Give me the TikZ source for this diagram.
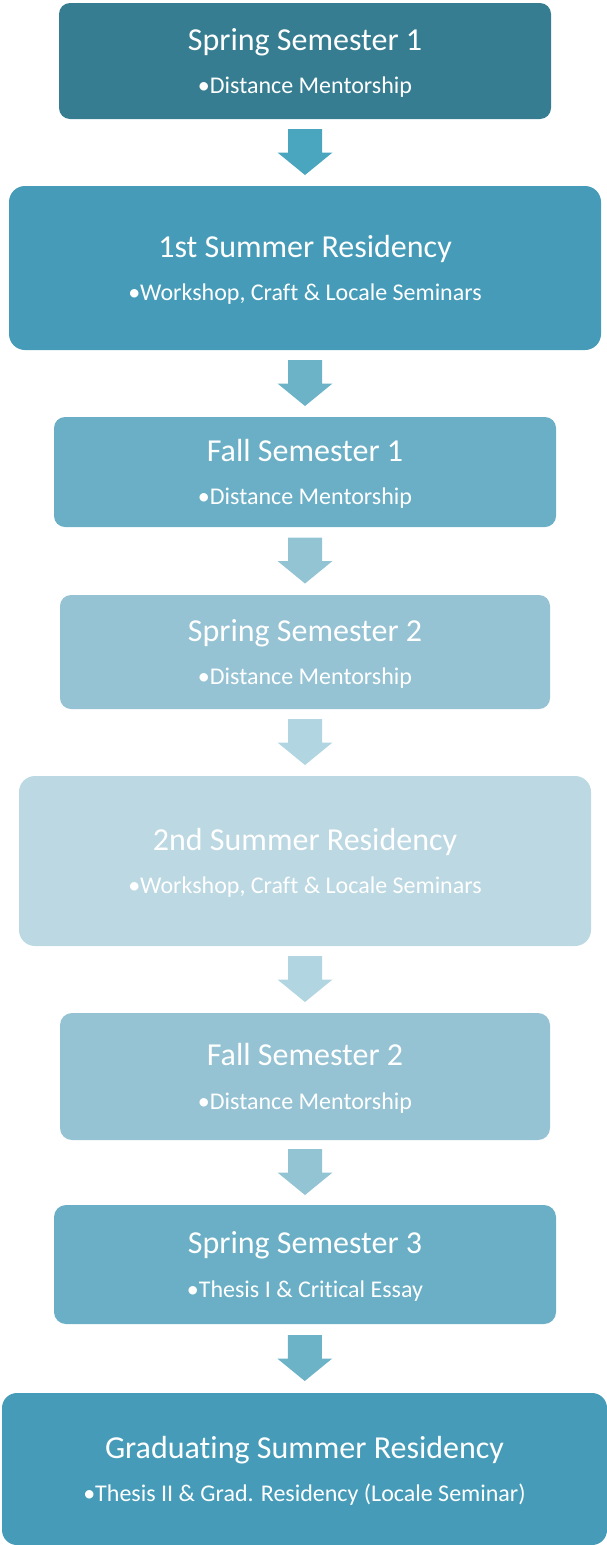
\documentclass[tikz,border=0pt]{standalone}
\usepackage{fontspec}
\setmainfont[Ligatures=NoCommon]{Carlito}
\usetikzlibrary{calc}
\definecolor{cA}{HTML}{367D91}
\definecolor{cB}{HTML}{469CB8}
\definecolor{cC}{HTML}{6AAFC6}
\definecolor{cD}{HTML}{95C3D4}
\definecolor{cE}{HTML}{BCD8E2}
\definecolor{aA}{HTML}{4AA6BE}
\definecolor{aB}{HTML}{6CB3C8}
\definecolor{aC}{HTML}{93C4D4}
\definecolor{aD}{HTML}{B1D5E1}
\begin{document}
\begin{tikzpicture}[x=1pt,y=-1pt,
  stagebox/.style={rounded corners=#1, inner sep=0pt, draw=none},
  ttl/.style={anchor=base, text=white, inner sep=0pt, font=\fontsize{32}{38}\selectfont},
  sub/.style={anchor=base, text=white, inner sep=0pt, font=\fontsize{24}{29}\selectfont},
  downarrow/.pic={\path[pic actions] (-17,-23.5) -- (17,-23.5) -- (17,0) -- (27.5,0) -- (0,22.5) -- (-27.5,0) -- (-17,0) -- cycle;}
]
\useasboundingbox (0,0) rectangle (607,1545);
% boxes
\node[stagebox=11pt, fill=cA, minimum width=492pt, minimum height=116pt] (b1) at (305,61) {};
\node[stagebox=16pt, fill=cB, minimum width=592pt, minimum height=164pt] (b2) at (305,268) {};
\node[stagebox=11pt, fill=cC, minimum width=502pt, minimum height=110pt] (b3) at (305,472) {};
\node[stagebox=11pt, fill=cD, minimum width=490pt, minimum height=114pt] (b4) at (305,652) {};
\node[stagebox=16pt, fill=cE, minimum width=572pt, minimum height=170pt] (b5) at (305,861) {};
\node[stagebox=12pt, fill=cD, minimum width=490pt, minimum height=127pt] (b6) at (305,1076.5) {};
\node[stagebox=12pt, fill=cC, minimum width=502pt, minimum height=119pt] (b7) at (305,1264.5) {};
\node[stagebox=15pt, fill=cB, minimum width=605pt, minimum height=152pt] (b8) at (304.5,1469) {};
% texts
\node[ttl] (t1) at ($(b1.center)+(0,-11)$) {Spring Semester 1};
\node[sub] (s1) at ($(b1.center)+(0,32.5)$) {•Distance Mentorship};
\node[ttl] (t2) at ($(b2.center)+(0,-11)$) {1st Summer Residency};
\node[sub] (s2) at ($(b2.center)+(0,32.5)$) {•Workshop, Craft \& Locale Seminars};
\node[ttl] (t3) at ($(b3.center)+(0,-11)$) {Fall Semester 1};
\node[sub] (s3) at ($(b3.center)+(0,32.5)$) {•Distance Mentorship};
\node[ttl] (t4) at ($(b4.center)+(0,-11)$) {Spring Semester 2};
\node[sub] (s4) at ($(b4.center)+(0,32.5)$) {•Distance Mentorship};
\node[ttl] (t5) at ($(b5.center)+(0,-11)$) {2nd Summer Residency};
\node[sub] (s5) at ($(b5.center)+(0,32.5)$) {•Workshop, Craft \& Locale Seminars};
\node[ttl] (t6) at ($(b6.center)+(0,-11)$) {Fall Semester 2};
\node[sub] (s6) at ($(b6.center)+(0,32.5)$) {•Distance Mentorship};
\node[ttl] (t7) at ($(b7.center)+(0,-11)$) {Spring Semester 3};
\node[sub] (s7) at ($(b7.center)+(0,32.5)$) {•Thesis I \& Critical Essay};
\node[ttl] (t8) at ($(b8.center)+(0,-11)$) {Graduating Summer Residency};
\node[sub] (s8) at ($(b8.center)+(0,32.5)$) {•Thesis II \& Grad. Residency (Locale Seminar)};
% arrows
\path ($(b1.south)!0.5!(b2.north)$) pic[fill=aA] {downarrow};
\path ($(b2.south)!0.5!(b3.north)$) pic[fill=aB] {downarrow};
\path ($(b3.south)!0.5!(b4.north)$) pic[fill=aC] {downarrow};
\path ($(b4.south)!0.5!(b5.north)$) pic[fill=aD] {downarrow};
\path ($(b5.south)!0.5!(b6.north)$) pic[fill=aD] {downarrow};
\path ($(b6.south)!0.5!(b7.north)$) pic[fill=aC] {downarrow};
\path ($(b7.south)!0.5!(b8.north)$) pic[fill=aB] {downarrow};
\end{tikzpicture}
\end{document}
